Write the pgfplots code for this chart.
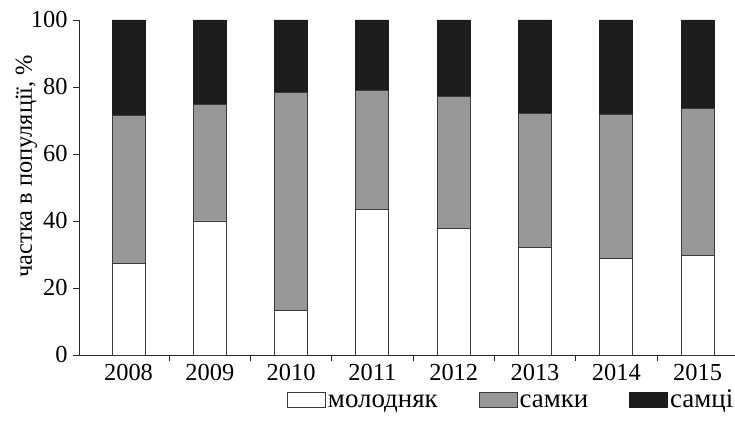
\documentclass[border=0pt]{standalone}
\usepackage{pgfplots}
\pgfplotsset{compat=1.18}
\usepackage{fontspec}
\setmainfont{Liberation Serif}
\definecolor{segblack}{HTML}{1D1D1B}
\definecolor{seggray}{HTML}{979997}
\definecolor{edge}{HTML}{3A3A39}
\begin{document}
\begin{tikzpicture}[font=\fontsize{24.5}{29}\selectfont]
\begin{axis}[
  scale only axis,
  width=656bp, height=335bp,
  ybar stacked,
  bar width=33bp,
  xmin=-0.609, xmax=7.46,
  ymin=0, ymax=100,
  axis x line=bottom, axis y line=left,
  axis line style={-, line width=0.9bp, draw=black!85},
  xtick={0,...,7},
  xticklabels={2008,2009,2010,2011,2012,2013,2014,2015},
  major x tick style={draw=none},
  minor xtick={0.5,1.5,...,6.5},
  minor tick length=6bp,
  major tick length=6bp,
  tick align=outside,
  tick style={line width=0.9bp, black!85},
  ytick={0,20,...,100},
  /pgf/number format/assume math mode=true,
  xticklabel style={yshift=0bp},
  yticklabel style={xshift=-2bp},
  ylabel={частка в популяції, \%},
  every axis y label/.style={at={(axis description cs:0,0.564)}, xshift=-47bp, rotate=90, anchor=base},
  legend columns=3,
  legend style={at={(rel axis cs:1,0)}, anchor=north east, yshift=-32bp, xshift=-0.5bp, draw=none, fill=none,
    inner sep=0pt,
    font=\fontsize{27}{32}\selectfont,
    /tikz/every odd column/.append style={column sep=1bp},
    /tikz/every even column/.append style={column sep=40bp},
    nodes={inner xsep=1bp, inner ysep=0bp, text height=20bp, text depth=5bp}},
  legend image code/.code={\draw[#1, line width=0.9bp] (0bp,-7.5bp) rectangle (38bp,7.5bp);},
  clip=false,
]
\addplot[fill=white, draw=edge, line width=0.9bp] coordinates {(0,27.4) (1,40.0) (2,13.4) (3,43.3) (4,37.7) (5,32.0) (6,28.7) (7,29.8)};
\addplot[fill=seggray, draw=edge, line width=0.9bp] coordinates {(0,44.2) (1,34.9) (2,64.9) (3,35.8) (4,39.4) (5,40.1) (6,43.2) (7,43.8)};
\addplot[fill=segblack, draw=segblack, line width=0.9bp] coordinates {(0,28.4) (1,25.1) (2,21.7) (3,20.9) (4,22.9) (5,27.9) (6,28.1) (7,26.4)};
\legend{молодняк,самки,самці}
\end{axis}
\pgfresetboundingbox
\path[use as bounding box] ([shift={(-79bp,-66bp)}]current axis.south west) rectangle ([shift={(0bp,20bp)}]current axis.north east);
\end{tikzpicture}
\end{document}
